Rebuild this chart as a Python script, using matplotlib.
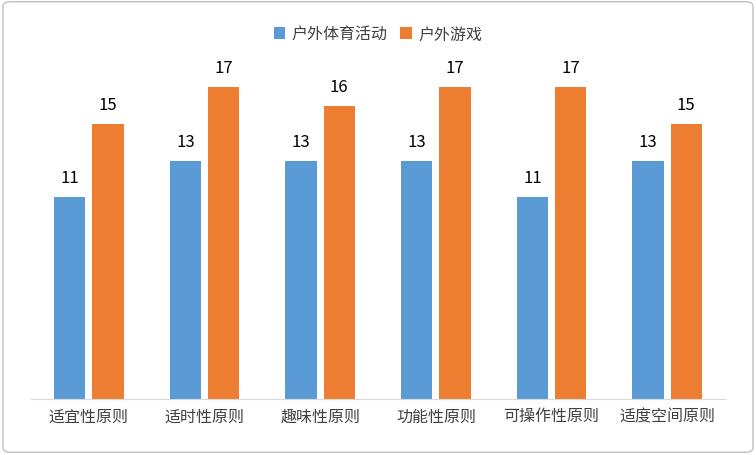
import matplotlib.pyplot as plt
import numpy as np
from matplotlib.patches import FancyBboxPatch

plt.rcParams["font.family"] = ["Noto Sans CJK SC", "DejaVu Sans"]

categories = ["适宜性原则", "适时性原则", "趣味性原则", "功能性原则", "可操作性原则", "适度空间原则"]
sports = [11, 13, 13, 13, 11, 13]
games = [15, 17, 16, 17, 17, 15]
series_names = ["户外体育活动", "户外游戏"]

BLUE = "#5B9BD5"
ORANGE = "#ED7D31"

fig = plt.figure(figsize=(7.56, 4.56), dpi=100)
fig.patches.append(FancyBboxPatch((0.004, 0.006), 0.992, 0.988,
                                  boxstyle="round,pad=0,rounding_size=0.01",
                                  transform=fig.transFigure, fill=False,
                                  edgecolor="#BFBFBF", linewidth=1))
ax = fig.add_axes([31 / 756, 56 / 456, 694 / 756, 330 / 456])

x = np.arange(len(categories))
w = 0.27
b1 = ax.bar(x - 0.165, sports, w, color=BLUE, label=series_names[0])
b2 = ax.bar(x + 0.165, games, w, color=ORANGE, label=series_names[1])
for bars in (b1, b2):
    for r in bars:
        ax.text(r.get_x() + r.get_width() / 2, r.get_height() + 0.6, f"{r.get_height():g}",
                ha="center", va="bottom", fontsize=12, color="#000000")

ax.set_xlim(-0.5, len(categories) - 0.5)
ax.set_ylim(0, 18)
ax.set_xticks(x)
ax.set_xticklabels(categories, fontsize=11.5, color="#404040")
ax.tick_params(axis="x", length=0, pad=6)
ax.set_yticks([])
for s in ["top", "right", "left"]:
    ax.spines[s].set_visible(False)
ax.spines["bottom"].set_color("#D9D9D9")

fig.legend(loc="center", bbox_to_anchor=(0.5, 35 / 456 * -1 + 1), ncol=2, frameon=False,
           fontsize=11.5, handlelength=0.7, handleheight=0.7, columnspacing=0.8,
           handletextpad=0.4, labelcolor="#404040")

fig.savefig("out.png", dpi=100)
